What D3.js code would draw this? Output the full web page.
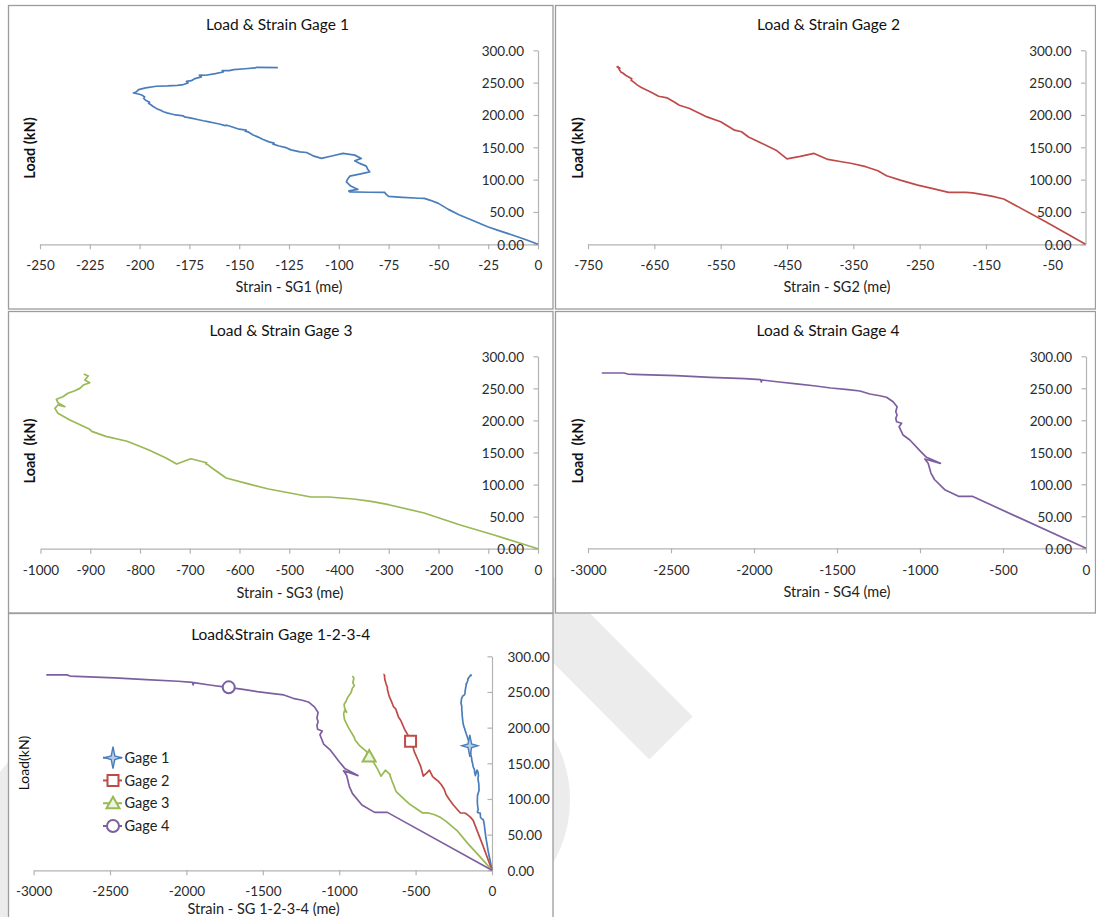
<!DOCTYPE html>
<html><head><meta charset="utf-8">
<script src="https://cdn.jsdelivr.net/npm/d3@7"></script>
<style>
html,body{margin:0;padding:0;background:#fff;}
svg{display:block;font-family:Lato,"Open Sans",sans-serif;}
</style></head><body>
<svg id="chart" width="1096" height="917"></svg>
<script>
// ---------------- DATA ----------------
const sg1Strain = [0,-6,-12.9,-20,-25.3,-32.4,-39.4,-45,-50,-54,-57.1,-59.5,-68,-75,-76.2,-77,-85,-94.5,-95,-90.4,-94,-96.2,-95.5,-94.5,-89,-84.5,-85.5,-86.2,-89.5,-92,-88.7,-92,-97.9,-103,-108.7,-112.9,-116.2,-119.5,-124,-127,-130,-133,-132.5,-135,-138,-140,-141,-143,-145.6,-147,-146.5,-150,-153,-156.2,-157,-160,-163,-165.1,-168,-171,-174,-177.5,-178,-182,-184,-186.3,-188,-190,-191,-193.4,-194,-195.5,-195,-197,-198,-197.5,-198.7,-200,-203.1,-201.5,-200.5,-197,-191.6,-186,-181,-178,-175.7,-176.5,-174,-172.2,-169,-170,-166.8,-162,-158,-158.5,-155,-152.7,-147,-142,-141.2,-130.6];
const sg1Load   = [0,7,14.4,21.5,27.2,36.4,45.2,54,63.3,68,71,71.2,72.5,74,77.2,80.3,80.5,81.2,82.5,84.9,90,96.6,101,105.4,109,112.1,116,120.9,125.1,129.1,132.8,137.9,140.5,137,132.8,136.8,142,143,146,150,152,155,156.5,158.4,162,165,166.5,169,173.9,175,176.5,178,181,184.2,183.5,186,188,189.3,191,193,195,197,198.5,200,201.5,203.2,205,208,209,213.5,215,218,219.5,222.8,226,228,230.5,232,234,236,239.3,241.8,244.4,245,245.9,247,249.5,252,253,256.3,259,261.5,261.4,264,266.5,268.5,268.5,270.2,271.5,272.7,273.7,273.2];

const sg2Strain = [0,-60,-123.3,-141.5,-170,-180.5,-206.5,-230,-253,-279.3,-300,-313,-331.3,-352,-370,-388.4,-409.2,-430,-450,-466.5,-487.4,-508,-518.6,-529,-550,-570.7,-591.5,-596.7,-612.3,-620,-630.5,-643.6,-654,-669.6,-676,-680,-685,-684,-693.3,-697,-700.6,-703.7,-702,-706,-703.5];
const sg2Load   = [0,35,70,74.6,79.5,80.3,80.3,86,91.6,99.3,106,113.7,120,125,128,131.2,140.5,136,132.2,145.6,156,166,174,176.5,189.4,197,207.4,210,215,220,226.4,229,234.6,242.4,246.5,250,253.7,256,261.4,264.5,266.6,271.7,272.5,274.3,275];

const sg3Strain = [0,-86.7,-157.8,-228.9,-300,-335.5,-371,-420.8,-456.3,-498.9,-541.6,-584.2,-626.9,-641,-655.3,-664,-668,-666,-697.9,-726.4,-747.7,-783.2,-826,-868.5,-897,-901,-941,-965,-971,-965,-951,-965,-968,-955,-945,-931,-921,-914,-901,-911,-904,-913];
const sg3Load   = [0,20.9,37.4,55.7,68.6,73.9,77.5,80.6,80.6,86.9,93.1,101.4,110.2,118,125.8,131,132.5,134,140.3,132,141.4,154.4,167.5,175.2,183,186.2,200.7,211.1,218.9,224.1,221.5,227.7,232.9,237,242.3,246.3,250,255.2,258.8,263,269.3,272.4];

const sg4Strain = [0,-685,-768,-851,-913,-934,-951,-971,-877,-961,-1001,-1061,-1102,-1126,-1111,-1141,-1146,-1138,-1146,-1138,-1162,-1202,-1242,-1302,-1362,-1433,-1537,-1640,-1744,-1848,-1952,-1956,-1960,-2055,-2263,-2470,-2678,-2761,-2782,-2917];
const sg4Load   = [0,81.2,81.2,91.6,107.5,117.6,132.8,139.5,132.8,142.2,152.5,169.2,177,190,195.3,197.8,203.1,208.3,213.4,221.3,229.1,236,238.4,241.1,245.8,247.8,250.5,254,256.8,259.8,263,260,263.5,265,267.2,269.8,271.4,272.3,273.9,273.9];

const gageNames   = ["Gage 1","Gage 2","Gage 3","Gage 4"];
const markerStrain = [-145,-533,-804,-1723];
const markerLoad   = [174.5,180.8,159.5,256.5];

const yTicks   = [0,50,100,150,200,250,300];
const xTicks1  = [-250,-225,-200,-175,-150,-125,-100,-75,-50,-25,0];
const xTicks2  = [-750,-650,-550,-450,-350,-250,-150,-50];
const xTicks3  = [-1000,-900,-800,-700,-600,-500,-400,-300,-200,-100,0];
const xTicks4  = [-3000,-2500,-2000,-1500,-1000,-500,0];
const xTicks5  = [-3000,-2500,-2000,-1500,-1000,-500,0];

// ---------------- STYLE / LAYOUT ----------------
const colors = ["#4a7ebb","#be4b48","#98b954","#7d5fa0"];
const markerFill = ["#b9cde5","#ffffff","#eef4e2","#ffffff"];
const series = [
  {x:sg1Strain, y:sg1Load},
  {x:sg2Strain, y:sg2Load},
  {x:sg3Strain, y:sg3Load},
  {x:sg4Strain, y:sg4Load}
];

const panels = [
  {box:[8.5,5.5,544.5,303.5], title:"Load & Strain Gage 1", tx:277.5, ty:30,
   xr:[40,538], yr:[244.3,50.3], xdom:[-250,0], xticks:xTicks1, xlabY:270,
   xTitle:"Strain - SG1 (me)", xtX:289, xtY:292, yTitle:"Load (kN)", ytX:35, ytY:148, s:[0], side:"left"},
  {box:[555.5,5.5,540,303.5], title:"Load & Strain Gage 2", tx:828.5, ty:30,
   xr:[588,1085.5], yr:[244.3,50.3], xdom:[-750,0], xticks:xTicks2, xlabY:270,
   xTitle:"Strain - SG2 (me)", xtX:837, xtY:292, yTitle:"Load (kN)", ytX:582.5, ytY:148, s:[1], side:"left"},
  {box:[8.5,311.5,544.5,301.5], title:"Load & Strain Gage 3", tx:281, ty:336,
   xr:[40.5,538], yr:[548.7,356.3], xdom:[-1000,0], xticks:xTicks3, xlabY:575,
   xTitle:"Strain - SG3 (me)", xtX:290, xtY:597.5, yTitle:"Load  (kN)", ytX:35, ytY:451, s:[2], side:"left"},
  {box:[555.5,311.5,540,301.5], title:"Load & Strain Gage 4", tx:828, ty:336,
   xr:[588,1086], yr:[548.3,356.3], xdom:[-3000,0], xticks:xTicks4, xlabY:575,
   xTitle:"Strain - SG4 (me)", xtX:837, xtY:597, yTitle:"Load  (kN)", ytX:582.5, ytY:451, s:[3], side:"left"},
  {box:[8.5,613.5,544.5,320], title:"Load&Strain Gage 1-2-3-4", tx:280.7, ty:639.5,
   xr:[33.6,492], yr:[870.3,656.3], xdom:[-3000,0], xticks:xTicks5, xlabY:896,
   xTitle:"Strain - SG 1-2-3-4 (me)", xtX:263.5, xtY:914, yTitle:"Load(kN)", ytX:29, ytY:763, s:[0,1,2,3], side:"right", legend:true, markers:true}
];

const svg = d3.select("#chart");

// ---- watermark (behind panels)
const wm = svg.append("g").attr("fill","none").attr("stroke","#ececec");
wm.append("line").attr("x1",480).attr("y1",546).attr("x2",671).attr("y2",738).attr("stroke-width",61);
wm.append("circle").attr("cx",444).attr("cy",800).attr("r",111).attr("stroke-width",30);
svg.append("path").attr("d","M0,772L8,762L8,917L0,917Z").attr("fill","#ececec");

// ---- marker shapes
function markerPath(i){
  if(i===0) return "M0,-11L1.8,-1.8L8,0L1.8,1.8L0,11L-1.8,1.8L-8,0L-1.8,-1.8Z";
  if(i===1) return "M-5.5,-5.5H5.5V5.5H-5.5Z";
  if(i===2) return "M0,-6.5L6.5,5L-6.5,5Z";
  return d3.arc()({innerRadius:0,outerRadius:6,startAngle:0,endAngle:2*Math.PI});
}

panels.forEach(p=>{
  const g = svg.append("g");
  g.append("rect").attr("x",p.box[0]).attr("y",p.box[1]).attr("width",p.box[2]).attr("height",p.box[3])
    .attr("fill","#fff").attr("stroke","#9c9c9c").attr("stroke-width",1.3);

  const x = d3.scaleLinear().domain(p.xdom).range(p.xr);
  const y = d3.scaleLinear().domain([0,300]).range(p.yr);

  // title
  g.append("text").attr("x",p.tx).attr("y",p.ty).attr("text-anchor","middle")
    .attr("font-size",15.5).attr("fill","#111").text(p.title);

  // x axis
  const xAxis = d3.axisBottom(x).tickValues(p.xticks).tickSize(5).tickSizeOuter(0).tickFormat(d=>String(d));
  const xa = g.append("g").attr("transform",`translate(0,${y(0)})`).call(xAxis);
  xa.select(".domain").attr("stroke","#b3b3b3").attr("stroke-width",1.2);
  xa.selectAll(".tick line").attr("stroke","#b3b3b3").attr("stroke-width",1.2);
  xa.selectAll(".tick text").attr("font-size",13.5).attr("fill","#2b2b2b")
    .attr("font-family","Lato").attr("dy",null)
    .attr("y", p.xlabY - y(0));

  // y axis
  const yAxis = d3.axisLeft(y).tickValues(yTicks).tickSize(4.5).tickSizeOuter(0).tickFormat(d3.format(".2f"));
  const ya = g.append("g").attr("transform",`translate(${x(0)},0)`).call(yAxis);
  ya.select(".domain").attr("stroke","#b3b3b3").attr("stroke-width",1.2);
  ya.selectAll(".tick line").attr("stroke","#b3b3b3").attr("stroke-width",1.2);
  const yt = ya.selectAll(".tick text").attr("font-size",13.5).attr("fill","#2b2b2b").attr("font-family","Lato")
    .attr("dy","0.36em");
  if(p.side==="left"){ yt.attr("x",-14).attr("text-anchor","end"); }
  else { yt.attr("x",15.5).attr("text-anchor","start"); }

  // axis titles
  g.append("text").attr("x",p.xtX).attr("y",p.xtY).attr("text-anchor","middle")
    .attr("font-size",14.5).attr("fill","#222").text(p.xTitle);
  g.append("text").attr("transform",`translate(${p.ytX},${p.ytY}) rotate(-90)`).attr("text-anchor","middle")
    .attr("font-size",p.legend?14:14.5).attr("font-weight",p.legend?"normal":"bold").attr("fill","#111")
    .style("white-space","pre").text(p.yTitle);

  // series
  const line = d3.line().x(d=>x(d[0])).y(d=>y(d[1]));
  p.s.forEach(i=>{
    const pts = series[i].x.map((v,k)=>[v, series[i].y[k]]);
    g.append("path").attr("d",line(pts)).attr("fill","none").attr("stroke",colors[i])
      .attr("stroke-width",1.7).attr("stroke-linejoin","round");
  });
  if(p.markers){
    p.s.forEach(i=>{
      g.append("path").attr("d",markerPath(i))
        .attr("transform",`translate(${x(markerStrain[i])},${y(markerLoad[i])})`)
        .attr("fill",markerFill[i]).attr("stroke",colors[i]).attr("stroke-width",i===0?1.4:2);
    });
  }
  if(p.legend){
    const lg = g.append("g");
    const rowY = d3.scaleLinear().domain([0,3]).range([757.7,826]);
    gageNames.forEach((name,i)=>{
      const yy = rowY(i);
      lg.append("line").attr("x1",103).attr("x2",122).attr("y1",yy).attr("y2",yy)
        .attr("stroke",colors[i]).attr("stroke-width",2);
      lg.append("path").attr("d",markerPath(i)).attr("transform",`translate(113,${yy})`)
        .attr("fill",markerFill[i]).attr("stroke",colors[i]).attr("stroke-width",i===0?1.4:2);
      lg.append("text").attr("x",124.5).attr("y",yy).attr("dy","0.36em")
        .attr("font-size",14.5).attr("fill","#222").text(name);
    });
  }
});
</script>
</body></html>
